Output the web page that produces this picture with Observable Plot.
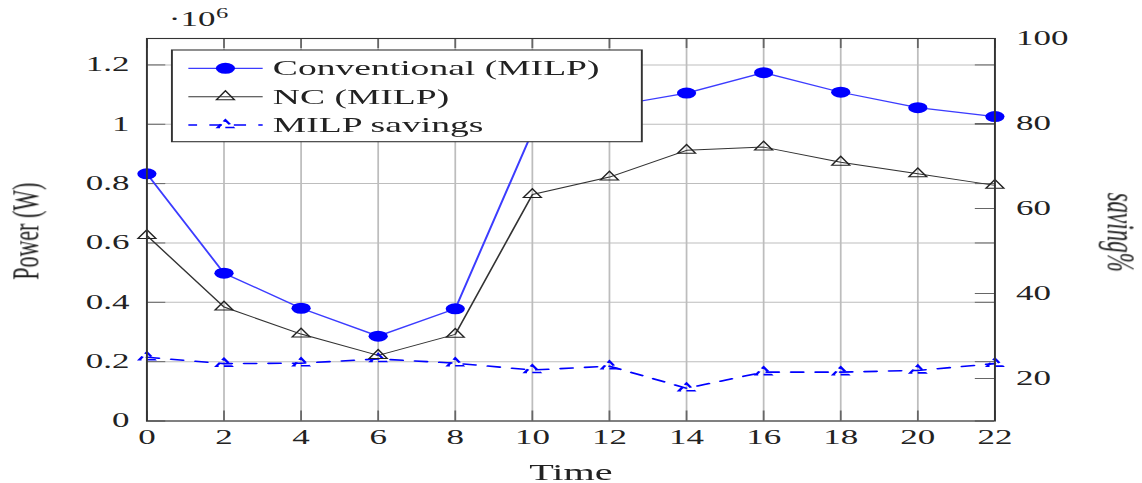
<!DOCTYPE html>
<html><head><meta charset="utf-8">
<script src="https://cdn.jsdelivr.net/npm/d3@7"></script>
<script src="https://cdn.jsdelivr.net/npm/@observablehq/plot@0.6"></script>
<style>
html,body{margin:0;padding:0;background:#fff;overflow:hidden;}
#wrap{position:relative;width:653px;height:483px;transform:scaleX(1.748852);transform-origin:0 0;font-family:'Liberation Serif','Times New Roman',serif;}
#wrap svg{position:absolute;left:0;top:0;}
#wrap svg text{font-family:'Liberation Serif','Times New Roman',serif;}
</style></head><body><div id="wrap"></div>
<script>
// ---- data ----
const time = [0, 2, 4, 6, 8, 10, 12, 14, 16, 18, 20, 22];
const conventional = [833000, 498000, 380000, 286000, 378000, 975000, 1060000, 1105000, 1174000, 1108000, 1056000, 1026000];
const nc = [625000, 384000, 293000, 221000, 292000, 763000, 822000, 912000, 923000, 872000, 833000, 794000];
const savings = [25.0, 23.5, 23.6, 24.6, 23.6, 22.0, 22.9, 17.7, 21.5, 21.5, 21.9, 23.5];
const seriesNames = ["Conventional (MILP)", "NC (MILP)", "MILP savings"];
const xTicks = [0, 2, 4, 6, 8, 10, 12, 14, 16, 18, 20, 22];
const yTicks = [0, 200000, 400000, 600000, 800000, 1000000, 1200000];
const rightTicks = [20, 40, 60, 80, 100];

// ---- layout ----
const W = 653, H = 483;
const mL = 83.5, mR = 84.6, mT = 38, mB = 62.5;
const fw = W - mL - mR, fh = H - mT - mB;
const YMAX = 1289000;
const RMIN = 10, RMAX = 100;
const savToY = s => (s - RMIN) / (RMAX - RMIN) * YMAX;
const yToSav = y => y / YMAX * (RMAX - RMIN) + RMIN;

const rows = time.map((t, i) => ({t, conv: conventional[i], nc: nc[i], sav: savToY(savings[i])}));
const blue = "#0000ff";
const font = "'Liberation Serif','Times New Roman',serif";
const dash = "7,7";

const chart = Plot.plot({
  width: W, height: H,
  marginLeft: mL, marginRight: mR, marginTop: mT, marginBottom: mB,
  x: {domain: [0, 22]},
  y: {domain: [0, YMAX]},
  style: {fontFamily: font, fontSize: "20px", background: "white", color: "#222", overflow: "visible"},
  marks: [
    Plot.gridX(xTicks, {stroke: "#bdbdbd", strokeOpacity: 1}),
    Plot.gridY(yTicks, {stroke: "#bdbdbd", strokeOpacity: 1}),
    // inward tick marks
    Plot.tickX(xTicks, {x: d => d, insetTop: fh - 10, stroke: "#666"}),
    Plot.tickX(xTicks, {x: d => d, insetBottom: fh - 10, stroke: "#666"}),
    Plot.tickY(yTicks, {y: d => d, insetRight: fw - 11, stroke: "#666"}),
    Plot.tickY(yTicks, {y: d => d, insetLeft: fw - 11, stroke: "#666"}),
    Plot.tickY(rightTicks.map(savToY), {y: d => d, insetLeft: fw - 11, stroke: "#666"}),
    // series
    Plot.line(rows, {x: "t", y: "sav", stroke: blue, strokeWidth: 1.6, strokeDasharray: dash}),
    Plot.dot(rows, {x: "t", y: "sav", symbol: "triangle", r: 3.2, stroke: blue, strokeWidth: 1.6, fill: "none", strokeDasharray: "5,3"}),
    Plot.line(rows, {x: "t", y: "nc", stroke: "#333", strokeWidth: 1}),
    Plot.dot(rows, {x: "t", y: "nc", symbol: "triangle", r: 3.8, stroke: "#222", strokeWidth: 1, fill: "none"}),
    Plot.line(rows, {x: "t", y: "conv", stroke: "#3c3cff", strokeWidth: 1.2}),
    Plot.dot(rows, {x: "t", y: "conv", r: 5.5, fill: blue, stroke: "none"}),
    Plot.frame({stroke: "#333", strokeWidth: 1.1}),
    // axes labels
    Plot.axisX(xTicks, {anchor: "bottom", tickSize: 0, tickPadding: 9, fontSize: 20, label: null, tickFormat: d => String(d)}),
    Plot.axisY(yTicks, {anchor: "left", tickSize: 0, tickPadding: 10, fontSize: 20, label: null, tickFormat: d => String(+(d / 1e6).toFixed(1))}),
    Plot.axisY(rightTicks.map(savToY), {anchor: "right", tickSize: 0, tickPadding: 12, fontSize: 20, label: null, tickFormat: d => String(Math.round(yToSav(d)))}),
    Plot.text(["·10"], {text: d => d, frameAnchor: "top-left", textAnchor: "start", lineAnchor: "middle", dx: 12.5, dy: -18.5, fontSize: 20}),
    Plot.text(["6"], {text: d => d, frameAnchor: "top-left", textAnchor: "start", lineAnchor: "middle", dx: 39.5, dy: -25, fontSize: 14}),
    Plot.text(["Power (W)"], {text: d => d, frameAnchor: "left", rotate: -90, dx: -69.2, dy: 1.5, fontSize: 22, lineAnchor: "middle", textAnchor: "middle"}),
    Plot.text(["saving%"], {text: d => d, frameAnchor: "right", rotate: 90, dx: 71.6, dy: 2.5, fontSize: 23, fontStyle: "italic", lineAnchor: "middle", textAnchor: "middle"}),
    Plot.text(["Time"], {text: d => d, frameAnchor: "bottom", dy: 51.5, fontSize: 23, lineAnchor: "middle", textAnchor: "middle"})
  ]
});
document.getElementById("wrap").appendChild(chart);

// ---- legend overlay ----
const lg = d3.select("#wrap").append("svg")
  .attr("width", W).attr("height", H)
  .style("pointer-events", "none")
  .style("font-family", font);
const box = {x: 98.3, y: 50, w: 268.7, h: 91.7};
lg.append("rect").attr("x", box.x).attr("y", box.y).attr("width", box.w).attr("height", box.h)
  .attr("fill", "white").attr("stroke", "#333").attr("stroke-width", 1.1);
const entries = [
  {name: seriesNames[0], y: 68.3, stroke: "#3c3cff", sw: 1.2, dash: null, sym: d3.symbolCircle, r: 5.5, mfill: blue, mstroke: "none", mdash: null},
  {name: seriesNames[1], y: 96.7, stroke: "#333", sw: 1, dash: null, sym: d3.symbolTriangle, r: 3.8, mfill: "none", mstroke: "#222", mdash: null},
  {name: seriesNames[2], y: 125, stroke: blue, sw: 1.6, dash: dash, sym: d3.symbolTriangle, r: 3.2, mfill: "none", mstroke: blue, mdash: "5,3"}
];
const lx1 = 107.7, lx2 = 150.2, mx = 128.9, tx = 156;
entries.forEach(e => {
  const l = lg.append("line").attr("x1", lx1).attr("x2", lx2).attr("y1", e.y).attr("y2", e.y)
    .attr("stroke", e.stroke).attr("stroke-width", e.sw);
  if (e.dash) l.attr("stroke-dasharray", e.dash).attr("stroke-dashoffset", 2);
  const p = lg.append("path").attr("transform", `translate(${mx},${e.y})`)
    .attr("d", d3.symbol(e.sym, e.r * e.r * Math.PI)())
    .attr("fill", e.mfill).attr("stroke", e.mstroke).attr("stroke-width", e.sw);
  if (e.mdash) p.attr("stroke-dasharray", e.mdash);
  lg.append("text").attr("x", tx).attr("y", e.y).attr("dy", "0.32em")
    .attr("font-size", 21.5).attr("fill", "#222").text(e.name);
});
</script>
</body></html>
